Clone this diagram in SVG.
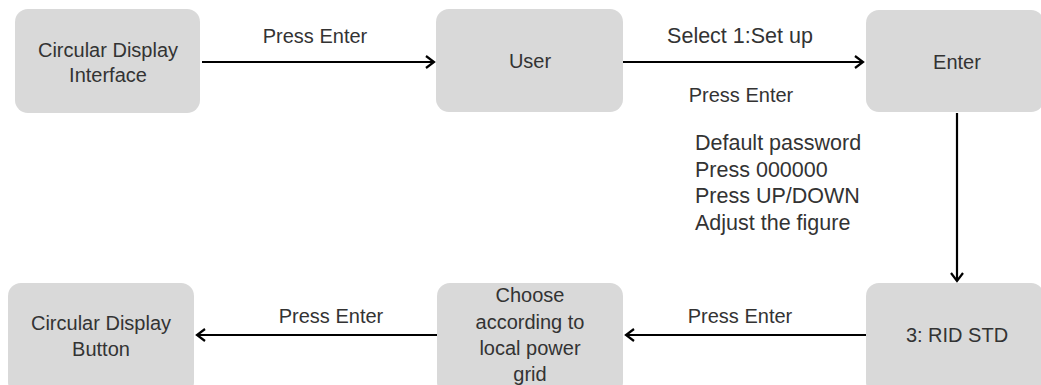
<svg xmlns="http://www.w3.org/2000/svg" width="1041" height="385" viewBox="0 0 1041 385">
  <style>
    .box { fill: #d9d9d9; }
    text { font-family: "Liberation Sans", Arial, sans-serif; font-size: 20px; fill: #333333; }
    .c { text-anchor: middle; }
    .big { font-size: 21.5px; }
    .edge { stroke: #000000; stroke-width: 2.2; fill: none; marker-end: url(#arr); }
  </style>
  <defs>
    <marker id="arr" markerUnits="userSpaceOnUse" markerWidth="14" markerHeight="16" refX="10" refY="7" orient="auto">
      <path d="M2,1 L10,7 L2,13" fill="none" stroke="#000000" stroke-width="2.2"/>
    </marker>
  </defs>
  <rect width="1041" height="385" fill="#ffffff"/>

  <g id="connectors">
    <line class="edge" x1="202" y1="62" x2="434" y2="62"/>
    <line class="edge" x1="623" y1="62" x2="863" y2="62"/>
    <line class="edge" x1="957" y1="113" x2="957" y2="281"/>
    <line class="edge" x1="866" y1="335" x2="626" y2="335"/>
    <line class="edge" x1="437" y1="335" x2="197" y2="335"/>
    <text class="c" x="315" y="43">Press Enter</text>
    <text class="c big" x="740" y="43">Select 1:Set up</text>
    <text class="c" x="741" y="102">Press Enter</text>
    <text class="big" x="695" y="150">Default password</text>
    <text class="big" x="695" y="177">Press 000000</text>
    <text class="big" x="695" y="203">Press UP/DOWN</text>
    <text class="big" x="695" y="230">Adjust the figure</text>
    <text class="c" x="740" y="323">Press Enter</text>
    <text class="c" x="331" y="323">Press Enter</text>
  </g>

  <g id="node-circular-interface">
    <rect class="box" x="15" y="9" width="185" height="104" rx="13"/>
    <text class="c" x="108" y="57">Circular Display</text>
    <text class="c" x="108" y="82">Interface</text>
  </g>
  <g id="node-user">
    <rect class="box" x="436" y="9" width="187" height="103" rx="13"/>
    <text class="c" x="530" y="68">User</text>
  </g>
  <g id="node-enter">
    <rect class="box" x="866" y="10" width="178" height="102" rx="13"/>
    <text class="c" x="957" y="69">Enter</text>
  </g>
  <g id="node-rid-std">
    <rect class="box" x="866" y="283" width="178" height="112" rx="13"/>
    <text class="c" x="957" y="342">3: RID STD</text>
  </g>
  <g id="node-choose">
    <rect class="box" x="437" y="283" width="186" height="112" rx="13"/>
    <text class="c" x="530" y="302">Choose</text>
    <text class="c" x="530" y="329">according to</text>
    <text class="c" x="530" y="355">local power</text>
    <text class="c" x="530" y="381">grid</text>
  </g>
  <g id="node-circular-button">
    <rect class="box" x="8" y="283" width="186" height="112" rx="13"/>
    <text class="c" x="101" y="330">Circular Display</text>
    <text class="c" x="101" y="356">Button</text>
  </g>
</svg>
